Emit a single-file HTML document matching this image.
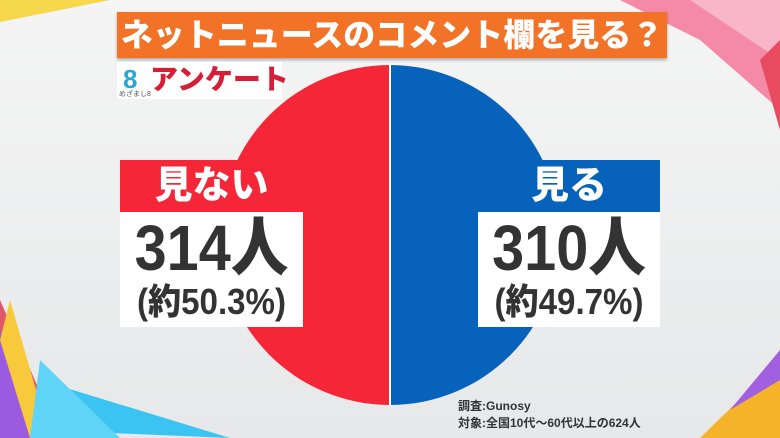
<!DOCTYPE html>
<html><head><meta charset="utf-8"><style>
html,body{margin:0;padding:0}
body{width:780px;height:438px;overflow:hidden;background:#efefef;position:relative;font-family:"Liberation Sans","Noto Sans CJK JP",sans-serif}
.abs{position:absolute}
.t{font-weight:900;text-align:center}
.n{font-size:64px;line-height:68px;transform:scaleX(0.9);margin-top:2px;white-space:nowrap}
.p{font-size:36px;line-height:40px;transform:scaleX(0.92);white-space:nowrap;margin-left:-20px;margin-right:-20px}
</style></head><body>
<svg class="abs" style="left:0;top:0" width="780" height="438">
<defs><linearGradient id="bg" x1="0" y1="0" x2="0" y2="1"><stop offset="0" stop-color="#f5f5f5"/><stop offset="1" stop-color="#e6e8e9"/></linearGradient></defs>
<rect width="780" height="438" fill="url(#bg)"/>
<polygon points="0,0 110,0 0,22" fill="#f7d84a"/>
<polygon points="620,0 780,0 780,110 700,40" fill="#f48aa8"/>
<polygon points="690,0 780,0 780,60" fill="#f9b6c8"/>
<polygon points="760,60 780,40 780,130" fill="#e84a5f"/>
<polygon points="0,300 60,438 0,438" fill="#e0556a"/>
<polygon points="0,330 40,438 0,438" fill="#9b5be0"/>
<polygon points="10,300 50,438 30,438 0,340" fill="#f8c93a"/>
<polygon points="40,430 40,380 230,438" fill="#3bc3f2"/>
<polygon points="30,438 40,360 120,438" fill="#5fd4f7"/>
<polygon points="700,438 780,360 780,438" fill="#f5b32a"/>
<polygon points="730,410 780,350 780,380" fill="#a060e0"/>
<path d="M390,65 A170,170 0 0 0 390,405 Z" fill="#f42637"/>
<path d="M390,65 A170,170 0 0 1 390,405 Z" fill="#0662bb"/>
<line x1="390" y1="65" x2="390" y2="405" stroke="#fff" stroke-width="2"/>
</svg>
<div class="abs t" style="left:117px;top:12px;width:550px;height:46px;background:#f27227;color:#fff;font-size:32px;line-height:46px;box-shadow:0 2px 3px rgba(0,0,0,.3)">ネットニュースのコメント欄を見る？</div>
<div class="abs" style="left:117px;top:62px;width:165px;height:37px;background:#fff"></div>
<div class="abs t" style="left:123px;top:64px;font-size:26px;color:#2aa7d6">8</div>
<div class="abs" style="left:119px;top:89px;font-size:7px;color:#555">めざまし8</div>
<div class="abs t" style="left:150px;top:63px;font-size:28px;color:#d81e36;line-height:34px">アンケート</div>

<div class="abs t" style="left:120px;top:160px;width:183px;height:52px;background:#f42637;color:#fff;font-size:38px;line-height:52px">見ない</div>
<div class="abs t" style="left:120px;top:212px;width:183px;height:115px;background:#fff;color:#333"><div class="n">314人</div><div class="p">(約50.3%)</div></div>
<div class="abs t" style="left:478px;top:160px;width:182px;height:52px;background:#0662bb;color:#fff;font-size:38px;line-height:52px">見る</div>
<div class="abs t" style="left:478px;top:212px;width:182px;height:115px;background:#fff;color:#333"><div class="n">310人</div><div class="p">(約49.7%)</div></div>

<div class="abs" style="left:458px;top:398px;font-size:12px;line-height:17px;color:#333;font-weight:bold">調査:Gunosy<br>対象:全国10代～60代以上の624人</div>
</body></html>
